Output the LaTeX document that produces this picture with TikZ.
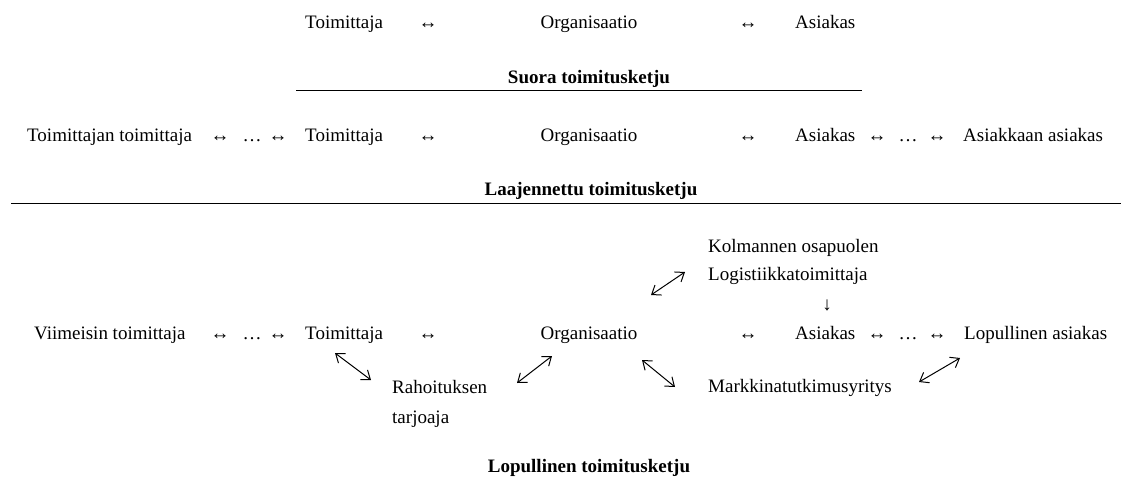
\documentclass[tikz,border=0pt]{standalone}
\usepackage{fontspec}
\setmainfont{Liberation Serif}
\usetikzlibrary{arrows.meta}
\begin{document}
\begin{tikzpicture}[x=1pt,y=-1pt,
  txt/.style={inner sep=0pt, font=\fontsize{19}{22}\selectfont},
  ttl/.style={inner sep=0pt, font=\fontsize{19}{22}\selectfont\bfseries, anchor=base},
  sym/.style={inner sep=0pt, font=\fontsize{19}{22}\selectfont, anchor=base},
  rule/.style={line width=1pt},
  diag/.style={line width=1pt, {Straight Barb[length=8pt,width=12pt]}-{Straight Barb[length=8pt,width=12pt]}}]
\useasboundingbox (0,0) rectangle (1121,479);
% Row 1: direct chain
\node[txt, anchor=base west] (t1) at (305,28) {Toimittaja};
\node[sym] (a11) at (428,28) {↔};
\node[txt, anchor=base] (o1) at (589,28) {Organisaatio};
\node[sym] (a12) at (748,28) {↔};
\node[txt, anchor=base west] (c1) at (795,28) {Asiakas};
\node[ttl] (h1) at (589,83) {Suora toimitusketju};
\coordinate (l1a) at (296,90);
\coordinate (l1b) at (862,90);
\draw[rule] (l1a) -- (l1b);
% Row 2: extended chain
\node[txt, anchor=base west] (tt2) at (27,141) {Toimittajan toimittaja};
\node[sym] (a21) at (220,141) {↔};
\node[sym] (d21) at (252,141) {…};
\node[sym] (a22) at (278,141) {↔};
\node[txt, anchor=base west] (t2) at (305,141) {Toimittaja};
\node[sym] (a23) at (428,141) {↔};
\node[txt, anchor=base] (o2) at (589,141) {Organisaatio};
\node[sym] (a24) at (748,141) {↔};
\node[txt, anchor=base west] (c2) at (795,141) {Asiakas};
\node[sym] (a25) at (877,141) {↔};
\node[sym] (d22) at (908,141) {…};
\node[sym] (a26) at (937,141) {↔};
\node[txt, anchor=base west] (cc2) at (963,141) {Asiakkaan asiakas};
\node[ttl] (h2) at (591,195) {Laajennettu toimitusketju};
\coordinate (l2a) at (11,203);
\coordinate (l2b) at (1121,203);
\draw[rule] (l2a) -- (l2b);
% Row 3: ultimate chain
\node[txt, anchor=base west] (k3) at (708,252) {Kolmannen osapuolen};
\node[txt, anchor=base west] (lg3) at (708,280) {Logistiikkatoimittaja};
\node[sym] (dn3) at (827,310) {↓};
\node[txt, anchor=base west] (v3) at (34,339) {Viimeisin toimittaja};
\node[sym] (a31) at (220,339) {↔};
\node[sym] (d31) at (252,339) {…};
\node[sym] (a32) at (278,339) {↔};
\node[txt, anchor=base west] (t3) at (305,339) {Toimittaja};
\node[sym] (a33) at (428,339) {↔};
\node[txt, anchor=base] (o3) at (589,339) {Organisaatio};
\node[sym] (a34) at (748,339) {↔};
\node[txt, anchor=base west] (c3) at (795,339) {Asiakas};
\node[sym] (a35) at (877,339) {↔};
\node[sym] (d32) at (908,339) {…};
\node[sym] (a36) at (937,339) {↔};
\node[txt, anchor=base west] (lc3) at (964,339) {Lopullinen asiakas};
\node[txt, anchor=base west] (r3) at (392,393) {Rahoituksen};
\node[txt, anchor=base west] (r3b) at (392,423) {tarjoaja};
\node[txt, anchor=base west] (m3) at (708,392) {Markkinatutkimusyritys};
\node[ttl] (h3) at (589,472) {Lopullinen toimitusketju};
% diagonal double arrows
\coordinate (p1a) at (335,353); \coordinate (p1b) at (371,380);
\coordinate (p2a) at (517,383); \coordinate (p2b) at (552,356);
\coordinate (p3a) at (651,295); \coordinate (p3b) at (685,272);
\coordinate (p4a) at (642,360); \coordinate (p4b) at (675,387);
\coordinate (p5a) at (919,382); \coordinate (p5b) at (960,358);
\draw[diag] (p1a) -- (p1b);
\draw[diag] (p2a) -- (p2b);
\draw[diag] (p3a) -- (p3b);
\draw[diag] (p4a) -- (p4b);
\draw[diag] (p5a) -- (p5b);
\end{tikzpicture}
\end{document}
